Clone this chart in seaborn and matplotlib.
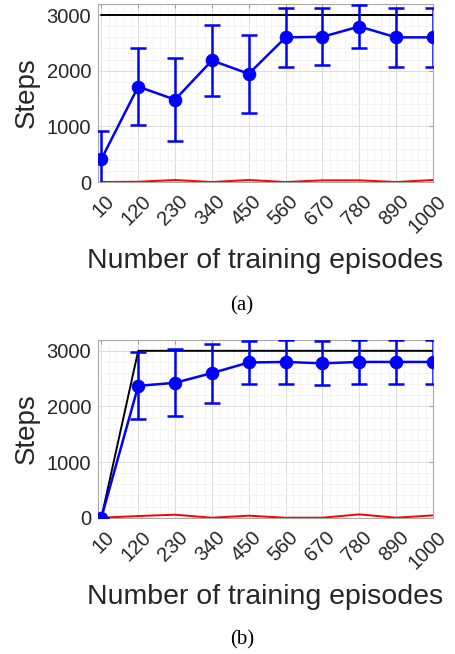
import numpy as np
import pandas as pd
import matplotlib
matplotlib.use("Agg")
import matplotlib.pyplot as plt
import matplotlib.transforms as mtransforms
from matplotlib.ticker import AutoMinorLocator
import seaborn as sns

# Episodes on the x axis
episodes = [10, 120, 230, 340, 450, 560, 670, 780, 890, 1000]

# Panel (a)
mean_a = [410, 1715, 1480, 2185, 1945, 2600, 2610, 2795, 2600, 2600]
err_a = [515, 690, 750, 645, 700, 530, 510, 390, 530, 525]
black_a = [3000, 3000, 3000, 3000, 3000, 3000, 3000, 3000, 3000, 3000]
red_a = [0, 5, 36, 0, 36, 0, 30, 30, 0, 36]

# Panel (b)
mean_b = [0, 2370, 2425, 2600, 2790, 2800, 2775, 2800, 2800, 2800]
err_b = [0, 600, 600, 530, 390, 390, 395, 390, 390, 390]
black_b = [0, 3000, 3000, 3000, 3000, 3000, 3000, 3000, 3000, 3000]
red_b = [0, 30, 54, 0, 36, 0, 0, 60, 0, 42]

sns.set_style("white")
plt.rcParams["font.family"] = ["Liberation Sans", "DejaVu Sans"]

fig = plt.figure(figsize=(4.55, 6.54), dpi=100)
ax_a = fig.add_axes([0.2154, 0.7217, 0.7363, 0.2722])
ax_b = fig.add_axes([0.2154, 0.2084, 0.7363, 0.2722])

txt = "#262626"


def draw_panel(ax, mean, err, black, red):
    df = pd.DataFrame({"ep": episodes, "mean": mean, "black": black, "red": red})
    sns.lineplot(data=df, x="ep", y="black", ax=ax, color="black", lw=1.4, zorder=3)
    sns.lineplot(data=df, x="ep", y="red", ax=ax, color="red", lw=1.4, zorder=3)
    ax.errorbar(episodes, mean, yerr=err, fmt="none", ecolor="blue",
                elinewidth=1.8, capsize=6, capthick=1.8, zorder=4)
    sns.lineplot(data=df, x="ep", y="mean", ax=ax, color="blue", lw=1.8,
                 marker="o", markersize=9, markeredgecolor="blue", zorder=5)

    ax.set_xlim(0, 1000)
    ax.set_ylim(0, 3200)
    ax.set_xticks(episodes)
    ax.set_xticklabels([])
    # rotated tick labels placed a little right of each tick, like MATLAB
    shift = mtransforms.ScaledTranslation(3 / 100, -10 / 100, fig.dpi_scale_trans)
    for e in episodes:
        ax.text(e, 0, str(e), transform=ax.get_xaxis_transform() + shift,
                rotation=45, ha="right", va="top", rotation_mode="anchor",
                fontsize=14.5, color=txt)
    ax.set_yticks([0, 1000, 2000, 3000])
    ax.xaxis.set_minor_locator(AutoMinorLocator(5))
    ax.yaxis.set_minor_locator(AutoMinorLocator(5))
    ax.grid(which="major", color="#dcdcdc", lw=0.7)
    ax.grid(which="minor", color="#f2f2f2", lw=0.6)
    ax.set_axisbelow(True)
    ax.tick_params(which="major", direction="in", length=3, color="#a0a0a0",
                   labelsize=14.5, labelcolor=txt, top=True, right=True, pad=5)
    ax.tick_params(which="minor", length=0)
    for s in ax.spines.values():
        s.set_color("#a8a8a8")
        s.set_linewidth(0.8)
    ax.set_xlabel("Number of training episodes", fontsize=20.5, color=txt)
    ax.set_ylabel("Steps", fontsize=20, color=txt)
    ax.xaxis.label.set_va("center")
    ax.xaxis.set_label_coords(0.5, -0.445)
    ax.yaxis.label.set_va("center")
    ax.yaxis.set_label_coords(-0.212, 0.5)


draw_panel(ax_a, mean_a, err_a, black_a, red_a)
draw_panel(ax_b, mean_b, err_b, black_b, red_b)

fig.text(0.532, 0.532, "(a)", ha="center", va="center", fontsize=15,
         family=["Liberation Serif", "DejaVu Serif"], color="black")
fig.text(0.532, 0.0214, "(b)", ha="center", va="center", fontsize=15,
         family=["Liberation Serif", "DejaVu Serif"], color="black")

fig.savefig("out.png", dpi=100)
